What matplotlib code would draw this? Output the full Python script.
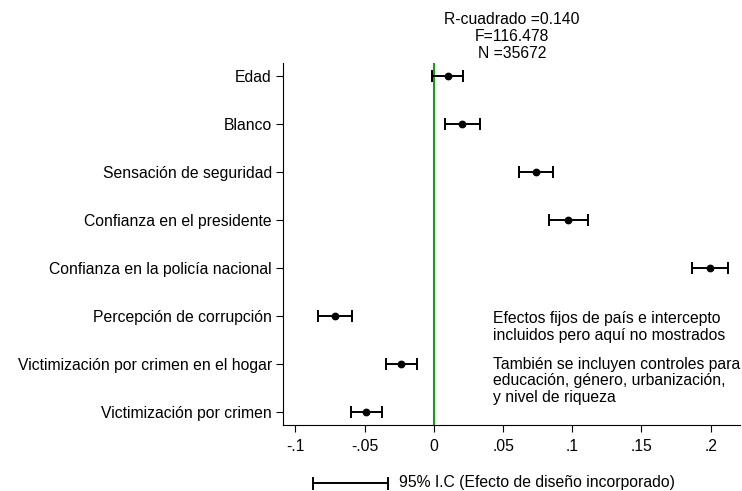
import matplotlib
matplotlib.use("Agg")
import matplotlib.pyplot as plt
from matplotlib.lines import Line2D

plt.rcParams['font.family'] = ['Liberation Sans', 'DejaVu Sans']

labels = ["Edad", "Blanco", "Sensación de seguridad", "Confianza en el presidente",
          "Confianza en la policía nacional", "Percepción de corrupción",
          "Victimización por crimen en el hogar", "Victimización por crimen"]
coef = [0.0103, 0.0205, 0.0736, 0.0972, 0.1993, -0.0717, -0.0238, -0.0489]
ci_low = [-0.0012, 0.0077, 0.0614, 0.0833, 0.1863, -0.0840, -0.0347, -0.0597]
ci_high = [0.0212, 0.0332, 0.0862, 0.1112, 0.2126, -0.0594, -0.0125, -0.0378]
xticks = [-0.1, -0.05, 0, 0.05, 0.1, 0.15, 0.2]
xticklabels = ["-.1", "-.05", "0", ".05", ".1", ".15", ".2"]
stats_text = "R-cuadrado =0.140\nF=116.478\nN =35672"
note1 = "Efectos fijos de país e intercepto\nincluidos pero aquí no mostrados"
note2 = "También se incluyen controles para\neducación, género, urbanización,\ny nivel de riqueza"
legend_label = "95% I.C (Efecto de diseño incorporado)"

FS = 11.3

fig = plt.figure(figsize=(7.42, 4.91), dpi=100)
ax = fig.add_axes([0.3814, 0.1344, 0.6156, 0.7373])

ypos = list(range(len(labels)))
ax.axvline(0, color="#1a9a1a", lw=1.5, zorder=1)
err_lo = [c - l for c, l in zip(coef, ci_low)]
err_hi = [h - c for c, h in zip(coef, ci_high)]
ax.errorbar(coef, ypos, xerr=[err_lo, err_hi], fmt="o", color="black",
            ms=4.6, capsize=4, capthick=1.4, elinewidth=1.4, zorder=3)

ax.set_ylim(len(labels) - 1 + 0.27, -0.27)
ax.set_xlim(-0.109, 0.221)
ax.set_yticks(ypos)
ax.set_yticklabels(labels, fontsize=FS)
ax.set_xticks(xticks)
ax.set_xticklabels(xticklabels, fontsize=FS)
ax.tick_params(axis="y", length=5, width=0.8, color="black", pad=3)
ax.tick_params(axis="x", length=5, width=0.8, color="black", pad=5)
for s in ["top", "right"]:
    ax.spines[s].set_visible(False)
for s in ["left", "bottom"]:
    ax.spines[s].set_linewidth(0.8)

fig.text(512 / 742, 1 - 36.5 / 491, stats_text, ha="center", va="center",
         fontsize=FS, linespacing=1.15)
fig.text(493 / 742, 1 - 327 / 491, note1, ha="left", va="center",
         fontsize=FS, linespacing=1.12)
fig.text(493 / 742, 1 - 381 / 491, note2, ha="left", va="center",
         fontsize=FS, linespacing=1.1)

# legend key: CI bar sample
fig.add_artist(Line2D([313 / 742, 388 / 742], [1 - 483 / 491, 1 - 483 / 491],
                      color="black", lw=1.4, transform=fig.transFigure))
for xx in [313, 388]:
    fig.add_artist(Line2D([xx / 742, xx / 742], [1 - 477.5 / 491, 1 - 488.5 / 491],
                          color="black", lw=1.4, transform=fig.transFigure))
fig.text(399 / 742, 1 - 483 / 491, legend_label, ha="left", va="center", fontsize=FS)

fig.savefig("out.png", dpi=100)
